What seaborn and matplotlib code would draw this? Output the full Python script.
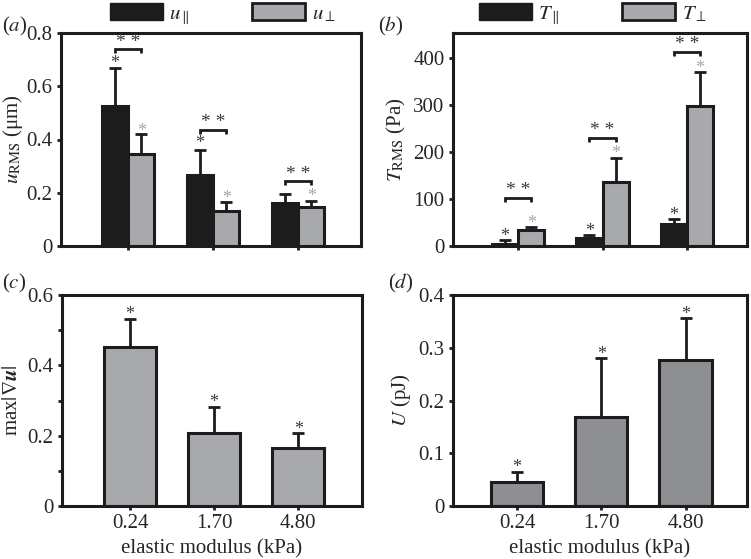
import matplotlib
matplotlib.use('Agg')
import pandas as pd
import matplotlib.pyplot as plt
from matplotlib.patches import Patch
from matplotlib.ticker import FuncFormatter, MultipleLocator
import seaborn as sns

moduli = ['0.24', '1.70', '4.80']

# (a) RMS displacement
u_par = [0.526, 0.267, 0.163]
u_par_err = [0.144, 0.094, 0.032]
u_perp = [0.347, 0.133, 0.147]
u_perp_err = [0.074, 0.032, 0.022]

# (b) RMS traction
t_par = [5, 18, 47]
t_par_err = [7, 5, 10]
t_perp = [34, 136, 298]
t_perp_err = [7, 51, 71]

# (c) max displacement gradient
grad_u = [0.452, 0.207, 0.166]
grad_u_err = [0.080, 0.075, 0.042]

# (d) strain energy
energy = [0.045, 0.168, 0.277]
energy_err = [0.019, 0.112, 0.079]

# significance marks (heights in data units)
stars_a_par = [0.70, 0.40, None]
stars_a_perp = [0.447, 0.195, 0.20]
brackets_a = [0.74, 0.436, 0.244]
stars_b_par = [30, 39, 74]
stars_b_perp = [57, 205, 386]
brackets_b = [102, 230, 412]
stars_c = [0.555, 0.307, 0.23]
stars_d = [0.08, 0.296, 0.37]

DARK = '#1c1c1c'
GRAY = '#a8a9ac'
GRAY_D = '#8e8f93'
STAR_DARK = '#3a3a3a'
STAR_LIGHT = '#a5a5a5'

sns.set_style('ticks')
plt.rcParams['font.family'] = ['Liberation Serif', 'DejaVu Serif']
plt.rcParams['mathtext.fontset'] = 'stix'
plt.rcParams['font.size'] = 15

fig = plt.figure(figsize=(7.51, 5.59), dpi=100)
W, H = 751, 559


def axes_px(x0, y0, x1, y1):
    return fig.add_axes([x0 / W, 1 - y1 / H, (x1 - x0) / W, (y1 - y0) / H])


ax_a = axes_px(61, 33, 361, 246)
ax_b = axes_px(453, 33, 747, 246)
ax_c = axes_px(62, 295, 362, 506)
ax_d = axes_px(453, 295, 747, 506)

fmt = FuncFormatter(lambda v, _: '0' if v == 0 else f'{v:g}')


def style(ax, ylim, yticks, xlim, labels=True):
    ax.set_xlim(*xlim)
    ax.set_ylim(*ylim)
    ax.set_yticks(yticks)
    ax.yaxis.set_major_formatter(fmt)
    for s in ax.spines.values():
        s.set_visible(True)
        s.set_linewidth(2.2)
        s.set_color(DARK)
    ax.tick_params(direction='out', length=3, width=2, color=DARK,
                   labelsize=15, pad=3)
    ax.tick_params(axis='y', pad=3)
    if labels:
        ax.set_xlabel('elastic modulus (kPa)', fontsize=15, labelpad=4)
    else:
        ax.set_xticklabels([])
        ax.set_xlabel('')


def add_err(ax, bars, errs):
    xs = [b.get_x() + b.get_width() / 2 for b in bars]
    ys = [b.get_height() for b in bars]
    ax.errorbar(xs, ys, yerr=[[0] * len(errs), errs], fmt='none',
                ecolor=DARK, elinewidth=2, capsize=4, capthick=2, zorder=0.5)
    return xs


def add_stars(ax, xs, heights, color, size=13):
    for x, h in zip(xs, heights):
        if h is None:
            continue
        ax.annotate('*', (x, h), xytext=(0, -3), textcoords='offset points',
                    ha='center', va='center', fontsize=size, color=color)


def add_brackets(ax, xl, xr, heights, drop):
    for a, b, h in zip(xl, xr, heights):
        ax.plot([a, a, b, b], [h - drop, h, h, h - drop], color=DARK,
                lw=2, solid_capstyle='butt', solid_joinstyle='miter')
        ax.annotate('* *', ((a + b) / 2, h), xytext=(0, 5),
                    textcoords='offset points', ha='center', va='center',
                    fontsize=14, color=STAR_DARK)


def grouped(ax, par, perp, names):
    df = pd.DataFrame({
        'modulus': moduli * 2,
        'value': par + perp,
        'comp': [names[0]] * 3 + [names[1]] * 3,
    })
    sns.barplot(data=df, x='modulus', y='value', hue='comp',
                palette=[DARK, GRAY], width=0.62, errorbar=None,
                edgecolor=DARK, linewidth=2.2, saturation=1,
                legend=False, ax=ax)
    return ax.containers[0], ax.containers[1]


# (a)
c_par, c_perp = grouped(ax_a, u_par, u_perp, ['par', 'perp'])
xa1 = add_err(ax_a, c_par, u_par_err)
xa2 = add_err(ax_a, c_perp, u_perp_err)
add_stars(ax_a, xa1, stars_a_par, STAR_DARK)
add_stars(ax_a, xa2, stars_a_perp, STAR_LIGHT)
add_brackets(ax_a, xa1, xa2, brackets_a, 0.016)
style(ax_a, (0, 0.8), [0, 0.2, 0.4, 0.6, 0.8], (-0.79, 2.74), labels=False)
ax_a.set_ylabel(r'$u_{\mathrm{RMS}}$ (μm)', fontsize=15)
ax_a.yaxis.set_label_coords(-0.12, 0.5)

# (b)
c_par, c_perp = grouped(ax_b, t_par, t_perp, ['par', 'perp'])
xb1 = add_err(ax_b, c_par, t_par_err)
xb2 = add_err(ax_b, c_perp, t_perp_err)
add_stars(ax_b, xb1, stars_b_par, STAR_DARK)
add_stars(ax_b, xb2, stars_b_perp, STAR_LIGHT)
add_brackets(ax_b, xb1, xb2, brackets_b, 9)
style(ax_b, (0, 452), [0, 100, 200, 300, 400], (-0.77, 2.71), labels=False)
ax_b.set_ylabel(r'$T_{\mathrm{RMS}}$ (Pa)', fontsize=15, labelpad=4)

# (c)
sns.barplot(x=moduli, y=grad_u, color=GRAY, width=0.62, errorbar=None,
            edgecolor=DARK, linewidth=2.2, saturation=1, ax=ax_c)
xc = add_err(ax_c, ax_c.containers[0], grad_u_err)
add_stars(ax_c, xc, stars_c, STAR_DARK)
style(ax_c, (0, 0.6), [0, 0.2, 0.4, 0.6], (-0.81, 2.76))
ax_c.yaxis.set_minor_locator(MultipleLocator(0.1))
ax_c.tick_params(axis='y', which='minor', direction='out', length=3,
                 width=2, color=DARK)
ax_c.set_ylabel(r'max$|\nabla\boldsymbol{u}|$', fontsize=15, labelpad=4)

# (d)
sns.barplot(x=moduli, y=energy, color=GRAY_D, width=0.62, errorbar=None,
            edgecolor=DARK, linewidth=2.2, saturation=1, ax=ax_d)
xd = add_err(ax_d, ax_d.containers[0], energy_err)
add_stars(ax_d, xd, stars_d, STAR_DARK)
style(ax_d, (0, 0.4), [0, 0.1, 0.2, 0.3, 0.4], (-0.76, 2.73))
ax_d.set_ylabel(r'$U$ (pJ)', fontsize=15, labelpad=4)

# legends above top panels
for ax, x0, labs in [(ax_a, 110, [r'$u_{\parallel}$', r'$u_{\perp}$']),
                     (ax_b, 479, [r'$T_{\parallel}$', r'$T_{\perp}$'])]:
    handles = [Patch(facecolor=DARK, edgecolor=DARK, lw=1),
               Patch(facecolor=GRAY, edgecolor=DARK, lw=2)]
    ax.legend(handles, labs, loc='center left',
              bbox_to_anchor=(x0 / W, 1 - 15 / H),
              bbox_transform=fig.transFigure, ncol=2, frameon=False,
              fontsize=15, handlelength=2.55, handleheight=0.85,
              handletextpad=0.3, columnspacing=3.0, borderpad=0,
              borderaxespad=0)

# panel letters
for x, y, t in [(2, 26, 'a'), (378, 26, 'b'), (2, 283, 'c'), (388, 283, 'd')]:
    fig.text(x / W, 1 - y / H, f'(${t}$)', fontsize=15, va='center',
             ha='left')

fig.savefig('out.png', dpi=100)
